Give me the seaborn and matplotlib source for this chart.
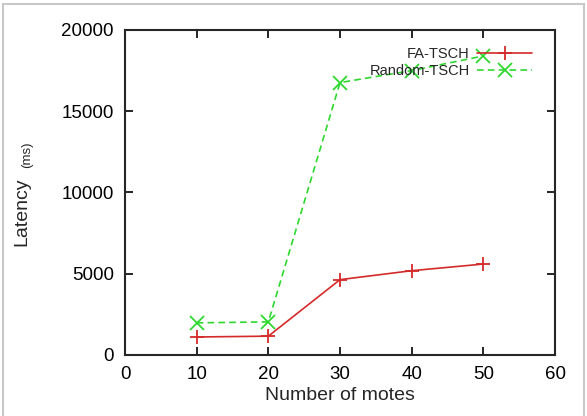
import pandas as pd
import matplotlib.pyplot as plt
from matplotlib.patches import Rectangle
import seaborn as sns

motes = [10, 20, 30, 40, 50]
fa_tsch = [1100, 1150, 4630, 5180, 5590]
random_tsch = [1970, 2030, 16760, 17500, 18400]
series_names = ['FA-TSCH', 'Random-TSCH']


def main():
    sns.set_style('ticks')
    plt.rcParams['font.family'] = ['Liberation Sans', 'DejaVu Sans']

    df = pd.DataFrame({
        'motes': motes * 2,
        'latency': fa_tsch + random_tsch,
        'series': [series_names[0]] * len(motes) + [series_names[1]] * len(motes),
    })

    fig = plt.figure(figsize=(5.87, 4.16), dpi=100)
    ax = fig.add_axes([0.213, 0.147, 0.7325, 0.781])

    styles = {
        'FA-TSCH': dict(color='#d42a2a', marker='+', linestyle='-'),
        'Random-TSCH': dict(color='#2fd82f', marker='x', linestyle=(0, (4, 2.5))),
    }
    for name in series_names:
        st = styles[name]
        sns.lineplot(
            data=df[df.series == name], x='motes', y='latency', label=name,
            color=st['color'], marker=st['marker'], linestyle=st['linestyle'],
            markeredgecolor=st['color'], markersize=10, markeredgewidth=1.3,
            linewidth=1.2, ax=ax,
        )

    ax.set_xlim(0, 60)
    ax.set_ylim(0, 20000)
    ax.set_xticks(range(0, 61, 10))
    ax.set_yticks(range(0, 20001, 5000))
    ax.tick_params(direction='in', length=6, width=1.2, top=True, right=True,
                   labelsize=13.5, pad=8, colors='black')
    for s in ax.spines.values():
        s.set_linewidth(1.5)
        s.set_visible(True)

    ax.set_xlabel('Number of motes', fontsize=14, labelpad=3)
    ax.set_ylabel('')
    fig.text(0.038, 0.49, 'Latency', rotation=90, fontsize=14,
             ha='center', va='center')
    fig.text(0.046, 0.627, '(ms)', rotation=90, fontsize=9.5,
             ha='center', va='center')

    ax.legend(loc='upper right', frameon=False, markerfirst=False,
              fontsize=10.5, handlelength=3.8, labelspacing=0.25, handletextpad=0.5,
              borderpad=0, borderaxespad=0, bbox_to_anchor=(0.947, 0.948))

    fig.patches.append(Rectangle((0.005, -0.01), 0.99, 1.0, transform=fig.transFigure,
                                 fill=False, edgecolor='#c8c8c8', linewidth=1.5))
    fig.savefig('out.png', dpi=100)


if __name__ == '__main__':
    main()
